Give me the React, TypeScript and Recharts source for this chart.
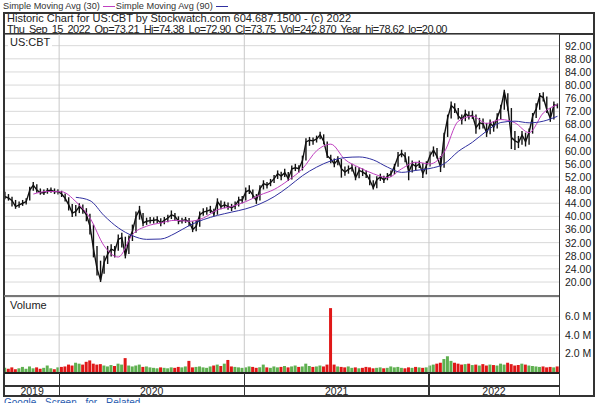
import React from 'react';
import {
  ComposedChart,
  Line,
  Bar,
  Cell,
  XAxis,
  YAxis,
  CartesianGrid,
  ReferenceLine,
} from 'recharts';

// days since Sep 16 2019, one point per week
const DAYS = 1095;
const yearStarts = [107, 473, 838];
const yearLabels = ['2019', '2020', '2021', '2022'];
const priceTicks = [20, 24, 28, 32, 36, 40, 44, 48, 52, 56, 60, 64, 68, 72, 76, 80, 84, 88, 92];
const volumeTicks = [2, 4, 6];

// weekly closes
const closes = [
  46, 45.6, 44.8, 43, 43.5, 44, 44.5, 48, 49.5, 48,
  47.2, 47.2, 47.8, 48, 47.5, 47.6, 46.8, 45.5, 43.5, 41,
  41.5, 43, 42, 40.5, 37, 30, 24, 20.5, 26, 28.5,
  30, 29.5, 33, 33.5, 28, 33, 35.5, 40, 42, 38,
  38.5, 38.7, 38.8, 39, 38, 38.8, 39.5, 40.5, 40, 38.5,
  38.7, 39, 38.3, 36, 37, 40.5, 41.3, 41.6, 42, 40.7,
  44.5, 43, 43.5, 43, 42.6, 43.3, 45, 45, 47.5, 48,
  46.5, 44.8, 48.5, 50, 49.5, 50.3, 51.5, 53, 52.3, 53.3,
  51.5, 54.5, 54.8, 54.5, 57, 62.7, 63.2, 63, 63.6, 64.9,
  62.8, 58.5, 57.4, 56, 57.3, 54.5, 53.5, 54.3, 54.9, 51.8,
  54, 53.5, 52.8, 51, 48.7, 51.2, 52, 51.1, 52.2, 53,
  55.3, 58.3, 59.2, 58.2, 53.5, 56, 55.2, 56, 53, 55.5,
  58.5, 60.2, 58.2, 55, 64.5, 70, 73.8, 72.8, 70.6, 69.5,
  71.3, 70.4, 70.8, 67, 68.5, 68.2, 65.4, 68.4, 67.2, 70.1,
  73, 78, 73, 64, 63, 62.5, 64.8, 62.7, 65.7, 70.5,
  72.8, 76.8, 76.2, 72.5, 69.8, 74, 73.75,
];

// weekly highs and lows
const highs = [
  47.5, 46.8, 46, 45, 44.5, 45, 45.5, 49, 50.5, 49.8,
  48.5, 48.2, 48.6, 48.8, 48.5, 48.3, 47.8, 47, 45.8, 43.8,
  43.5, 44, 43.6, 42.5, 40.8, 37.5, 31, 26.5, 28, 31,
  31.5, 31, 34.5, 35, 33.8, 34.2, 37.5, 41.5, 43.2, 41,
  39.6, 39.8, 39.7, 40, 39.4, 39.8, 40.5, 41.8, 41, 40,
  39.6, 39.8, 39.5, 38.5, 38.8, 41.5, 42.5, 42.8, 43.2, 42.3,
  45.5, 44.8, 44.5, 44.2, 43.8, 44.5, 46, 46.2, 48.8, 49.5,
  48.2, 46.8, 49.5, 51, 50.5, 51.4, 52.6, 54, 53.6, 54.5,
  53.5, 55.5, 56, 55.6, 58.5, 63.8, 64.2, 64, 64.6, 65.8,
  65, 62.8, 58.8, 57.6, 58.3, 57.5, 55.2, 55.5, 56, 55.2,
  55, 54.6, 54, 52.8, 51, 52.2, 53, 52.4, 53.2, 54,
  56, 59.6, 60.3, 59.5, 58.3, 57, 56.5, 57, 56.2, 56.8,
  59.8, 61.3, 60.8, 58.4, 65.5, 71, 75, 74.5, 73, 71,
  72.5, 72, 72.2, 71, 70, 69.8, 68.5, 69.5, 69, 71.4,
  74, 78.6, 77.5, 73, 66, 64.5, 66, 65.5, 66.8, 71.5,
  74.5, 77.6, 77.8, 76.5, 73, 75, 74.4,
];
const lows = [
  45.2, 44.8, 43, 42.3, 42.6, 43.2, 43.6, 44.8, 47.8, 47.2,
  46.6, 46.5, 46.9, 47.2, 46.8, 46.7, 45.9, 44.5, 41.8, 39.8,
  40, 41, 40.8, 38.5, 34.5, 27.5, 22, 20, 22.5, 25.5,
  27.8, 27.5, 29.5, 30.5, 27.2, 28.5, 32.5, 35, 39, 37,
  37.4, 37.8, 37.8, 37.9, 37, 37.6, 38.2, 39.2, 38.7, 37.6,
  37.8, 38, 37, 35.2, 35.5, 36.8, 40.2, 40.5, 41, 40,
  40.5, 42.2, 42.5, 42, 41.6, 42.2, 43, 44, 44.8, 46.8,
  45.5, 43.8, 44.8, 48.2, 48.5, 49.2, 50.2, 51.4, 51, 52,
  50.8, 51.2, 53.8, 53.4, 54, 57, 61.5, 61.8, 62.5, 63.5,
  62, 57.8, 56.2, 55, 55.6, 51.8, 52.4, 53, 53.7, 51,
  51.6, 52.3, 51.7, 49.5, 48.2, 48.6, 50.8, 50.2, 51, 52,
  52.8, 55.1, 58, 56.5, 51, 53.4, 54, 54.7, 51.7, 52.8,
  55.2, 58.2, 57.6, 53.5, 54.8, 64.2, 69.8, 71.5, 69.5, 68,
  69, 69.5, 69.7, 65.2, 66.5, 66.8, 64.2, 65, 65.8, 66.8,
  69.5, 72.5, 72.2, 60.5, 60.2, 60.8, 61.8, 61.3, 61.8, 65.2,
  70, 72.5, 75, 71.5, 68.8, 69.5, 72.9,
];

// moving averages, read every 4th week
const ma30 = [
  null, null, 46.8, 47.6, 47.5, 44.5, 39.5, 31, 27.6, 34.5,
  37, 38, 38.8, 38.5, 39.5, 42, 43, 44.5, 46.5, 48.2,
  51, 54.5, 60, 62, 57.3, 54.9, 53, 51.8, 54.5, 56.5,
  56, 59.5, 69, 70.5, 68.3, 69.5, 68.5, 65.5, 71.5, 74,
];
const ma90 = [
  null, null, null, null, null, 45.8, 44.8, 40.2, 36.5, 34.1,
  33, 33.1, 34.8, 37.2, 39, 40.3, 41.3, 42.3, 43.8, 46,
  49, 52.4, 55, 56.9, 57.9, 58.1, 57.2, 55, 53.4, 54,
  54.6, 56, 59.8, 62.6, 66, 68.6, 69, 68.5, 69, 70.5,
];

// volume in millions
const volumes = [
  0.45, 0.35, 0.5, 0.3, 0.4, 0.55, 0.35, 0.6, 0.4, 0.5, 0.35, 0.45, 0.7, 0.4, 0.3, 0.5,
  0.55, 0.6, 0.8, 0.7, 1.0, 0.9, 0.8, 1.1, 1.25, 0.9, 0.8, 0.85, 0.7, 0.6, 0.75, 0.65, 0.9, 0.8, 1.5, 0.7,
  0.6, 0.7, 0.8, 0.55, 0.6, 0.5, 0.45, 0.4, 0.5, 0.45, 0.4, 0.5, 0.45, 0.55, 0.5, 0.6, 1.2, 0.5, 0.55, 0.6,
  0.5, 0.45, 0.6, 0.7, 0.8, 0.65, 0.9, 1.3, 0.6, 0.55, 0.5, 0.45, 0.5, 0.6, 0.55,
  0.45, 0.5, 0.8, 0.5, 0.45, 0.6, 0.5, 0.55, 0.65, 0.5, 0.6, 0.7, 0.55, 0.6, 0.9, 0.65, 0.55, 0.6, 0.7, 0.6, 0.8,
  6.9,
  0.8, 0.6, 0.55, 0.5, 0.6, 0.45, 0.5, 0.4, 0.45, 0.55, 0.5, 0.4, 0.45, 0.5, 0.4, 0.45, 0.6, 0.5, 0.55, 0.45, 0.4, 0.5, 0.45, 0.55, 0.5, 0.45, 0.5,
  0.7, 0.8, 0.9, 1.0, 1.4, 1.7, 1.2, 1.0, 0.9, 0.8, 0.85, 0.9, 0.75, 0.8, 0.7, 0.85, 0.7, 0.8, 0.75, 0.7, 0.9, 0.8, 1.0, 0.85, 0.7, 0.75, 0.9, 0.8, 0.7, 0.65, 0.6, 0.55, 0.6, 0.5, 0.55, 0.5, 0.6,
];

const rows = closes.map((c, i) => ({
  day: i * 7,
  close: c,
  range: [lows[i], highs[i]],
  vol: volumes[i],
  up: i === 0 || c >= closes[i - 1],
  ma30: i % 4 === 0 ? ma30[i / 4] : null,
  ma90: i % 4 === 0 ? ma90[i / 4] : null,
}));

const FONT = '"Liberation Sans", Arial, sans-serif';
const PLOT_L = 5;
const PLOT_W = 554;
const AXIS_W = 35;
const xOf = (d: number) => PLOT_L + (d / DAYS) * PLOT_W;

function RightTick(props: any) {
  const { x, y, payload, fmt } = props;
  return (
    <text x={x} y={y} dy={4} textAnchor="start" fontSize={10.5} fill="#222" fontFamily={FONT}>
      {fmt(payload.value)}
    </text>
  );
}

export default function App() {
  return (
    <div
      style={{
        position: 'relative',
        width: 600,
        height: 403,
        overflow: 'hidden',
        background: '#fff',
        fontFamily: FONT,
        color: '#222',
      }}
    >
      <style>{'body{margin:0}'}</style>

      {/* legend */}
      <div style={{ position: 'absolute', left: 3, top: 1, fontSize: 9.2, lineHeight: '11px', whiteSpace: 'nowrap', color: '#333' }}>
        Simple Moving Avg (30)
        <span style={{ display: 'inline-block', width: 12, borderTop: '1px solid #c040c0', verticalAlign: 'middle', margin: '0 1px 0 3px' }} />
        Simple Moving Avg (90)
        <span style={{ display: 'inline-block', width: 12, borderTop: '1px solid #3030a0', verticalAlign: 'middle', marginLeft: 3 }} />
      </div>

      {/* frame */}
      <div style={{ position: 'absolute', left: 3, top: 12, width: 592, height: 385, border: '2px solid #333', boxSizing: 'border-box' }} />
      <div style={{ position: 'absolute', left: 7, top: 13, fontSize: 11, lineHeight: '10.5px', whiteSpace: 'nowrap' }}>
        <div>Historic Chart for US:CBT by Stockwatch.com 604.687.1500 - (c) 2022</div>
        <div style={{ letterSpacing: -0.5, wordSpacing: 2 }}>Thu Sep 15 2022 Op=73.21 Hi=74.38 Lo=72.90 Cl=73.75 Vol=242,870 Year hi=78.62 lo=20.00</div>
      </div>
      <div style={{ position: 'absolute', left: 4, top: 33, width: 590, height: 1.5, background: '#333' }} />

      {/* price panel */}
      <div style={{ position: 'absolute', left: PLOT_L, top: 34 }}>
        <ComposedChart width={PLOT_W + AXIS_W} height={262} data={rows} margin={{ top: 0, right: 0, bottom: 0, left: 0 }}>
          <CartesianGrid vertical={false} stroke="#d9d9d9" />
          <XAxis dataKey="day" type="number" domain={[0, DAYS]} hide />
          <YAxis
            orientation="right"
            width={AXIS_W}
            domain={[15.74, 95.56]}
            ticks={priceTicks}
            interval={0}
            allowDataOverflow
            axisLine={false}
            tickLine={false}
            tickSize={6}
            tickMargin={0}
            tick={<RightTick fmt={(v: number) => v.toFixed(2)} />}
          />
          {yearStarts.map((d) => (
            <ReferenceLine key={d} x={d} stroke="#c8c8c8" />
          ))}
          <Bar dataKey="range" barSize={1.4} fill="#111" isAnimationActive={false} />
          <Line type="linear" dataKey="close" stroke="#111" strokeWidth={1.4} dot={false} isAnimationActive={false} />
          <Line type="monotone" dataKey="ma30" stroke="#c040c0" strokeWidth={1} dot={false} connectNulls isAnimationActive={false} />
          <Line type="monotone" dataKey="ma90" stroke="#3030a0" strokeWidth={1} dot={false} connectNulls isAnimationActive={false} />
        </ComposedChart>
      </div>
      <div style={{ position: 'absolute', left: 8, top: 36, fontSize: 11, background: '#fff', padding: '0 2px', lineHeight: '12px' }}>US:CBT</div>

      {/* volume panel */}
      <div style={{ position: 'absolute', left: 4, top: 295, width: 555, height: 2, background: '#777' }} />
      <div style={{ position: 'absolute', left: PLOT_L, top: 297 }}>
        <ComposedChart width={PLOT_W + AXIS_W} height={75} data={rows} margin={{ top: 0, right: 0, bottom: 0, left: 0 }}>
          <CartesianGrid vertical={false} stroke="#d9d9d9" />
          <XAxis dataKey="day" type="number" domain={[0, DAYS]} hide />
          <YAxis
            orientation="right"
            width={AXIS_W}
            domain={[0, 8.1]}
            ticks={volumeTicks}
            interval={0}
            allowDataOverflow
            axisLine={false}
            tickLine={false}
            tickSize={6}
            tickMargin={0}
            tick={<RightTick fmt={(v: number) => `${v.toFixed(1)} M`} />}
          />
          {yearStarts.map((d) => (
            <ReferenceLine key={d} x={d} stroke="#c8c8c8" />
          ))}
          <Bar dataKey="vol" barSize={3} isAnimationActive={false}>
            {rows.map((r, i) => (
              <Cell key={i} fill={r.up ? '#5fb050' : '#e01818'} />
            ))}
          </Bar>
        </ComposedChart>
      </div>
      <div style={{ position: 'absolute', left: 10, top: 299, fontSize: 11, lineHeight: '12px' }}>Volume</div>

      {/* date rows */}
      <div style={{ position: 'absolute', left: 4, top: 372, width: 555, height: 2, background: '#222' }} />
      <div style={{ position: 'absolute', left: 4, top: 385, width: 555, height: 1.5, background: '#333' }} />
      {yearStarts.map((d) => (
        <div key={d} style={{ position: 'absolute', left: xOf(d) - 0.5, top: 373, width: 1.5, height: 23, background: '#333' }} />
      ))}
      {yearLabels.map((lab, i) => {
        const a = i === 0 ? 0 : yearStarts[i - 1];
        const b = i === yearLabels.length - 1 ? DAYS : yearStarts[i];
        return (
          <div
            key={lab}
            style={{ position: 'absolute', left: xOf((a + b) / 2) - 20, width: 40, top: 386, fontSize: 10.5, lineHeight: '11px', textAlign: 'center' }}
          >
            {lab}
          </div>
        );
      })}
      <div style={{ position: 'absolute', left: PLOT_L + PLOT_W - 0.5, top: 34, width: 1.5, height: 362, background: '#333' }} />

      <div style={{ position: 'absolute', left: 4, top: 397, fontSize: 10, lineHeight: '12px', color: '#2a5db0', whiteSpace: 'nowrap', wordSpacing: 6 }}>
        Google Screen for Related
      </div>
    </div>
  );
}
